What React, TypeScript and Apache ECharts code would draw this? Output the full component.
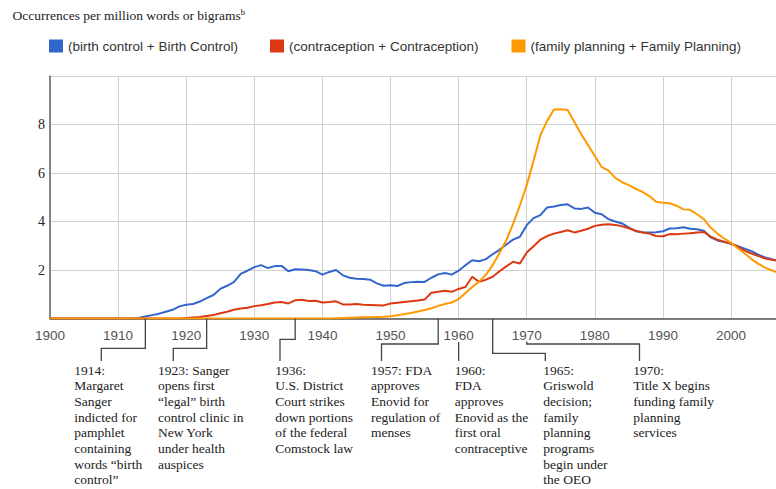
import React, { useEffect, useRef } from "react";
import * as echarts from "echarts";

const START_YEAR = 1900;

// Occurrences per million words (1900..2007)
const birthControl = [
  0, 0, 0, 0, 0, 0, 0, 0, 0, 0,
  0, 0, 0, 0.02, 0.08, 0.14, 0.2, 0.28, 0.36, 0.5,
  0.57, 0.6, 0.7, 0.84, 0.97, 1.22, 1.35, 1.5, 1.84, 1.97,
  2.12, 2.2, 2.08, 2.16, 2.17, 1.95, 2.03, 2.02, 2.0, 1.95,
  1.81, 1.92, 2.0, 1.78, 1.68, 1.64, 1.63, 1.6, 1.45, 1.35,
  1.37, 1.34, 1.46, 1.5, 1.52, 1.51, 1.68, 1.82, 1.88, 1.81,
  1.97, 2.2, 2.4, 2.36, 2.45, 2.65, 2.83, 3.05, 3.25, 3.37,
  3.85, 4.14, 4.26, 4.58, 4.62, 4.68, 4.71, 4.54, 4.52, 4.58,
  4.36, 4.3, 4.1, 4.0, 3.92, 3.75, 3.6, 3.56, 3.55, 3.56,
  3.6, 3.71, 3.72, 3.76, 3.7, 3.68, 3.62, 3.35, 3.22, 3.15,
  3.08, 2.98, 2.88, 2.78, 2.63, 2.52, 2.44, 2.38,
];

const contraception = [
  0, 0, 0, 0, 0, 0, 0, 0, 0, 0,
  0, 0, 0, 0, 0, 0, 0, 0, 0, 0,
  0.02, 0.04, 0.06, 0.1, 0.14, 0.22, 0.28, 0.36, 0.41, 0.44,
  0.51, 0.55, 0.6, 0.66, 0.68, 0.62, 0.75, 0.77, 0.72, 0.73,
  0.66, 0.68, 0.71, 0.58, 0.58, 0.6, 0.57, 0.56, 0.55, 0.54,
  0.62, 0.65, 0.68, 0.71, 0.74, 0.78, 1.06, 1.1, 1.14, 1.1,
  1.22, 1.3, 1.72, 1.51, 1.6, 1.72, 1.95, 2.15, 2.34, 2.27,
  2.72, 2.98, 3.25, 3.4, 3.5, 3.57, 3.64, 3.55, 3.62, 3.7,
  3.82, 3.87, 3.89, 3.86, 3.8, 3.72, 3.62, 3.55, 3.5, 3.4,
  3.39, 3.48, 3.47, 3.5, 3.52, 3.55, 3.57, 3.38, 3.25, 3.17,
  3.09, 2.95, 2.8, 2.68, 2.58, 2.47, 2.42, 2.38,
];

const familyPlanning = [
  0, 0, 0, 0, 0, 0, 0, 0, 0, 0,
  0, 0, 0, 0, 0, 0, 0, 0, 0, 0,
  0, 0, 0, 0, 0, 0, 0, 0, 0, 0,
  0, 0, 0, 0, 0, 0, 0, 0, 0, 0,
  0, 0, 0.01, 0.02, 0.03, 0.04, 0.05, 0.05, 0.06, 0.07,
  0.09, 0.13, 0.18, 0.23, 0.29, 0.35, 0.42, 0.52, 0.6, 0.66,
  0.8, 1.05, 1.3, 1.52, 1.8, 2.2, 2.7, 3.23, 3.9, 4.67,
  5.5, 6.5, 7.56, 8.15, 8.62, 8.63, 8.6, 8.1, 7.6, 7.15,
  6.7, 6.25, 6.1, 5.8, 5.62, 5.5, 5.35, 5.22, 5.05, 4.81,
  4.77, 4.75, 4.65, 4.5, 4.48, 4.3, 4.1, 3.75, 3.5, 3.3,
  3.12, 2.9, 2.68, 2.45, 2.25, 2.1, 1.98, 1.88,
];

const seriesNames = [
  "(birth control + Birth Control)",
  "(contraception + Contraception)",
  "(family planning + Family Planning)",
];

const eventYears = [1914, 1923, 1936, 1957, 1960, 1965, 1970];
const eventTexts = [
  "1914:\nMargaret\nSanger\nindicted for\npamphlet\ncontaining\nwords \u201cbirth\ncontrol\u201d",
  "1923: Sanger\nopens first\n\u201clegal\u201d birth\ncontrol clinic in\nNew York\nunder health\nauspices",
  "1936:\nU.S. District\nCourt strikes\ndown portions\nof the federal\nComstock law",
  "1957: FDA\napproves\nEnovid for\nregulation of\nmenses",
  "1960:\nFDA\napproves\nEnovid as the\nfirst oral\ncontraceptive",
  "1965:\nGriswold\ndecision;\nfamily\nplanning\nprograms\nbegin under\nthe OEO",
  "1970:\nTitle X begins\nfunding family\nplanning\nservices",
];

// callout layout (pixels): startY null => from axis line
const calloutLayout = [
  { startY: null, elbowY: 348.3, dropX: 101.3, textX: 74.3 },
  { startY: null, elbowY: 348.3, dropX: 173.3, textX: 158 },
  { startY: null, elbowY: 339.3, dropX: 280, textX: 275.3 },
  { startY: null, elbowY: 344, dropX: 381.5, textX: 371 },
  { startY: 342, elbowY: null, dropX: null, textX: 454.7 },
  { startY: null, elbowY: 353.3, dropX: 545.3, textX: 543.3 },
  { startY: 341.5, elbowY: 344, dropX: 639.5, textX: 633.3 },
];

const colors = ["#3366cc", "#dc3912", "#ff9900"];
const SERIF = "'Liberation Serif', 'Times New Roman', serif";
const SANS = "'Liberation Sans', Arial, sans-serif";

const toPairs = (arr: number[]) => arr.map((v, i) => [START_YEAR + i, v]);

export default function App() {
  const ref = useRef<HTMLDivElement>(null);

  useEffect(() => {
    if (!ref.current) return;
    const chart = echarts.init(ref.current, null, { renderer: "svg" });
    const legendBase = {
      icon: "rect",
      itemWidth: 14,
      itemHeight: 13,
      padding: 0,
      top: 39,
      selectedMode: false,
      textStyle: { fontFamily: SANS, fontSize: 13.5, color: "#333" },
    };
    chart.setOption({
      animation: false,
      backgroundColor: "#fff",
      title: {
        text: "{a|Occurrences per million words or bigrams}{s|b}",
        left: 12.5,
        top: 7,
        padding: 0,
        textStyle: {
          fontWeight: "normal",
          fontFamily: SERIF,
          rich: {
            a: { fontFamily: SERIF, fontWeight: "normal", fontSize: 13.5, color: "#222", lineHeight: 16 },
            s: { fontFamily: SERIF, fontWeight: "normal", fontSize: 8.5, color: "#222", verticalAlign: "top", lineHeight: 10 },
          },
        },
      },
      legend: [
        { ...legendBase, left: 49, data: [seriesNames[0]] },
        { ...legendBase, left: 270, data: [seriesNames[1]] },
        { ...legendBase, left: 511.5, data: [seriesNames[2]] },
      ],
      grid: { left: 50, top: 76, width: 726, height: 242.5, containLabel: false },
      xAxis: {
        type: "value",
        min: 1900,
        max: 2006.6,
        interval: 10,
        axisLine: { show: true, lineStyle: { color: "#555", width: 1.5 } },
        axisTick: { show: false },
        splitLine: { show: true, lineStyle: { color: "#d0d0d0", width: 1 } },
        axisLabel: {
          showMaxLabel: false,
          showMinLabel: true,
          margin: 10,
          fontFamily: SANS,
          fontSize: 13.5,
          color: "#555",
          formatter: (v: number) => (Math.abs(v % 10) < 1e-6 ? String(v) : ""),
        },
      },
      yAxis: {
        type: "value",
        min: 0,
        max: 10,
        interval: 2,
        axisLine: { show: true, lineStyle: { color: "#666", width: 1.5 } },
        axisTick: { show: false },
        splitLine: { show: true, lineStyle: { color: "#d0d0d0", width: 1 } },
        axisLabel: {
          margin: 5,
          fontFamily: SERIF,
          fontSize: 14,
          color: "#222",
          formatter: (v: number) => (v === 0 || v === 10 ? "" : String(v)),
        },
      },
      series: [birthControl, contraception, familyPlanning].map((d, i) => ({
        type: "line",
        name: seriesNames[i],
        data: toPairs(d),
        showSymbol: false,
        symbol: "none",
        color: colors[i],
        lineStyle: { width: 2, color: colors[i] },
        itemStyle: { color: colors[i] },
        clip: true,
        z: 2 + i,
      })),
    });

    const axisY = chart.convertToPixel({ yAxisIndex: 0 }, 0) as number;
    const graphics: any[] = [];
    eventYears.forEach((yr, i) => {
      const L = calloutLayout[i];
      const x0 = chart.convertToPixel({ xAxisIndex: 0 }, yr) as number;
      const sy = L.startY == null ? axisY : L.startY;
      const endY = 361;
      let pts: number[][];
      if (L.elbowY == null) {
        pts = [[x0, sy], [x0, endY]];
      } else {
        pts = [[x0, sy], [x0, L.elbowY], [L.dropX as number, L.elbowY], [L.dropX as number, endY]];
      }
      graphics.push({
        type: "polyline",
        shape: { points: pts },
        style: { stroke: "#444", lineWidth: 1.3, fill: null },
        z: 10,
      });
      graphics.push({
        type: "text",
        x: L.textX,
        y: 362.2,
        style: {
          text: eventTexts[i],
          fontFamily: SERIF,
          fontSize: 13.5,
          lineHeight: 15.7,
          fill: "#222",
          verticalAlign: "top",
          align: "left",
        },
        z: 10,
      });
    });
    chart.setOption({ graphic: graphics });

    return () => chart.dispose();
  }, []);

  return (
    <div
      ref={ref}
      style={{ position: "fixed", left: 0, top: 0, width: 776, height: 489, background: "#fff" }}
    />
  );
}
